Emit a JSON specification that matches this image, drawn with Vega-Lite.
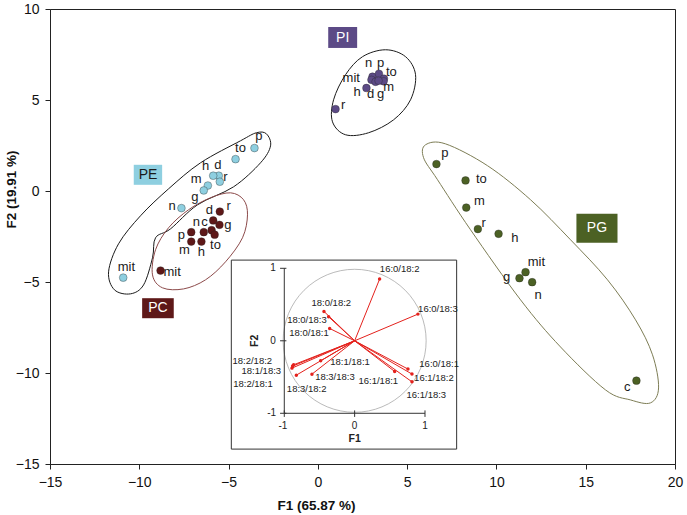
{
"$schema": "https://vega.github.io/schema/vega-lite/v6.json",
"width": 625, "height": 455,
"autosize": {"type": "none"},
"padding": {"left": 50, "top": 9, "right": 12, "bottom": 51},
"background": "white",
"config": {"font": "Liberation Sans", "view": {"stroke": "#222", "strokeWidth": 1}, "axis": {"grid": false, "domainColor": "#222", "tickColor": "#222", "labelColor": "#111", "titleColor": "#111"}},
"datasets": {
"pts": [
{"g":"PE","x":-3.55,"y":2.36},{"g":"PE","x":-4.61,"y":1.75},{"g":"PE","x":-5.55,"y":0.84},{"g":"PE","x":-5.86,"y":0.84},{"g":"PE","x":-5.49,"y":0.51},{"g":"PE","x":-6.16,"y":0.30},{"g":"PE","x":-6.39,"y":0.03},{"g":"PE","x":-7.64,"y":-0.94},{"g":"PE","x":-10.90,"y":-4.76},
{"g":"PC","x":-5.49,"y":-1.13},{"g":"PC","x":-5.86,"y":-1.62},{"g":"PC","x":-5.51,"y":-1.86},{"g":"PC","x":-6.39,"y":-2.26},{"g":"PC","x":-5.95,"y":-2.15},{"g":"PC","x":-7.09,"y":-2.26},{"g":"PC","x":-7.09,"y":-2.78},{"g":"PC","x":-6.52,"y":-2.78},{"g":"PC","x":-5.78,"y":-2.40},{"g":"PC","x":-8.81,"y":-4.37},
{"g":"PI","x":3.06,"y":6.28},{"g":"PI","x":3.42,"y":6.44},{"g":"PI","x":3.70,"y":6.17},{"g":"PI","x":3.68,"y":6.03},{"g":"PI","x":3.00,"y":6.11},{"g":"PI","x":3.23,"y":6.00},{"g":"PI","x":3.40,"y":6.06},{"g":"PI","x":2.72,"y":5.66},{"g":"PI","x":0.99,"y":4.50},
{"g":"PG","x":6.64,"y":1.48},{"g":"PG","x":8.27,"y":0.58},{"g":"PG","x":8.31,"y":-0.91},{"g":"PG","x":8.96,"y":-2.09},{"g":"PG","x":10.12,"y":-2.35},{"g":"PG","x":11.63,"y":-4.46},{"g":"PG","x":11.29,"y":-4.79},{"g":"PG","x":12.00,"y":-5.01},{"g":"PG","x":17.84,"y":-10.42}
],
"lbl": [
{"t":"p","x":-3.31,"y":3.00},{"t":"to","x":-4.33,"y":2.36},{"t":"h","x":-6.29,"y":1.35},{"t":"d","x":-5.60,"y":1.44},{"t":"r","x":-5.17,"y":0.76},{"t":"m","x":-6.81,"y":0.65},{"t":"g","x":-6.89,"y":-0.34},{"t":"n","x":-8.16,"y":-0.81},{"t":"mit","x":-10.72,"y":-4.15},
{"t":"d","x":-6.07,"y":-1.07},{"t":"r","x":-4.99,"y":-0.80},{"t":"n","x":-6.80,"y":-1.71},{"t":"c","x":-6.35,"y":-1.71},{"t":"g","x":-5.04,"y":-1.86},{"t":"p","x":-7.65,"y":-2.41},{"t":"m","x":-7.47,"y":-3.23},{"t":"h","x":-6.53,"y":-3.36},{"t":"to","x":-5.73,"y":-2.96},{"t":"mit","x":-8.16,"y":-4.43},
{"t":"n","x":2.84,"y":7.05},{"t":"p","x":3.51,"y":7.05},{"t":"to","x":4.12,"y":6.55},{"t":"mit","x":1.87,"y":6.21},{"t":"m","x":3.96,"y":5.74},{"t":"h","x":2.20,"y":5.42},{"t":"d","x":2.95,"y":5.33},{"t":"g","x":3.51,"y":5.33},{"t":"r","x":1.42,"y":4.74},
{"t":"p","x":7.11,"y":2.08},{"t":"to","x":9.16,"y":0.65},{"t":"m","x":9.05,"y":-0.54},{"t":"r","x":9.29,"y":-1.76},{"t":"h","x":11.03,"y":-2.59},{"t":"mit","x":12.24,"y":-3.88},{"t":"g","x":10.57,"y":-4.70},{"t":"n","x":12.34,"y":-5.74},{"t":"c","x":17.32,"y":-10.78}
],
"ell": [
{"g":"PI","i":0,"x":3.79,"y":7.76},{"g":"PI","i":1,"x":4.91,"y":7.38},{"g":"PI","i":2,"x":5.47,"y":6.39},{"g":"PI","i":3,"x":5.19,"y":5.01},{"g":"PI","i":4,"x":4.24,"y":3.91},{"g":"PI","i":5,"x":2.84,"y":3.20},{"g":"PI","i":6,"x":1.55,"y":3.09},{"g":"PI","i":7,"x":0.82,"y":3.80},{"g":"PI","i":8,"x":0.88,"y":5.01},{"g":"PI","i":9,"x":1.55,"y":6.39},{"g":"PI","i":10,"x":2.50,"y":7.38},
{"g":"PE","i":0,"x":-2.88,"y":3.14},{"g":"PE","i":1,"x":-2.65,"y":2.48},{"g":"PE","i":2,"x":-3.21,"y":1.55},{"g":"PE","i":3,"x":-4.72,"y":0.23},{"g":"PE","i":4,"x":-6.74,"y":-0.76},{"g":"PE","i":5,"x":-8.25,"y":-2.08},{"g":"PE","i":6,"x":-9.09,"y":-2.57},{"g":"PE","i":7,"x":-9.26,"y":-3.67},{"g":"PE","i":8,"x":-9.76,"y":-5.16},{"g":"PE","i":9,"x":-10.49,"y":-5.65},{"g":"PE","i":10,"x":-11.39,"y":-5.43},{"g":"PE","i":11,"x":-11.72,"y":-4.44},{"g":"PE","i":12,"x":-11.16,"y":-2.90},{"g":"PE","i":13,"x":-9.93,"y":-1.36},{"g":"PE","i":14,"x":-8.36,"y":0.12},{"g":"PE","i":15,"x":-6.57,"y":1.55},{"g":"PE","i":16,"x":-4.33,"y":2.76},{"g":"PE","i":17,"x":-3.44,"y":3.20},
{"g":"PC","i":0,"x":-4.89,"y":-0.10},{"g":"PC","i":1,"x":-4.16,"y":-0.48},{"g":"PC","i":2,"x":-3.94,"y":-1.31},{"g":"PC","i":3,"x":-4.22,"y":-2.57},{"g":"PC","i":4,"x":-5.17,"y":-3.89},{"g":"PC","i":5,"x":-6.29,"y":-4.88},{"g":"PC","i":6,"x":-7.52,"y":-5.38},{"g":"PC","i":7,"x":-8.70,"y":-5.32},{"g":"PC","i":8,"x":-9.26,"y":-4.61},{"g":"PC","i":9,"x":-9.09,"y":-3.23},{"g":"PC","i":10,"x":-8.36,"y":-2.02},{"g":"PC","i":11,"x":-7.24,"y":-1.03},{"g":"PC","i":12,"x":-6.01,"y":-0.37},
{"g":"PG","i":0,"x":6.03,"y":2.54},{"g":"PG","i":1,"x":7.15,"y":2.59},{"g":"PG","i":2,"x":9.50,"y":1.39},{"g":"PG","i":3,"x":11.91,"y":-0.48},{"g":"PG","i":4,"x":14.15,"y":-2.68},{"g":"PG","i":5,"x":16.22,"y":-4.88},{"g":"PG","i":6,"x":17.79,"y":-7.08},{"g":"PG","i":7,"x":18.74,"y":-9.00},{"g":"PG","i":8,"x":19.08,"y":-10.82},{"g":"PG","i":9,"x":18.63,"y":-11.64},{"g":"PG","i":10,"x":17.51,"y":-11.48},{"g":"PG","i":11,"x":16.11,"y":-10.93},{"g":"PG","i":12,"x":13.59,"y":-8.57},{"g":"PG","i":13,"x":11.35,"y":-5.98},{"g":"PG","i":14,"x":8.55,"y":-2.13},{"g":"PG","i":15,"x":6.70,"y":0.62},{"g":"PG","i":16,"x":5.92,"y":1.83}
],
"box": [
{"g":"PI","x":0.58,"x2":2.20,"y":9.01,"y2":7.86},
{"g":"PE","x":-10.31,"x2":-8.72,"y":1.44,"y2":0.34},
{"g":"PC","x":-9.84,"x2":-8.07,"y":-5.89,"y2":-6.99},
{"g":"PG","x":14.48,"x2":16.78,"y":-1.25,"y2":-2.85}
],
"boxlbl": [
{"g":"PI","t":"PI","x":1.39,"y":8.43},
{"g":"PE","t":"PE","x":-9.51,"y":0.89},
{"g":"PC","t":"PC","x":-8.96,"y":-6.44},
{"g":"PG","t":"PG","x":15.63,"y":-2.05}
],
"load": [
{"v":"16:0/18:2","f1":0.355,"f2":0.851},
{"v":"16:0/18:3","f1":0.900,"f2":0.368},
{"v":"18:0/18:2","f1":-0.436,"f2":0.405},
{"v":"18:0/18:3","f1":-0.370,"f2":0.331},
{"v":"18:0/18:1","f1":-0.355,"f2":0.170},
{"v":"18:2/18:2","f1":-0.867,"f2":-0.331},
{"v":"18:1/18:3","f1":-0.891,"f2":-0.377},
{"v":"18:2/18:1","f1":-0.882,"f2":-0.349},
{"v":"18:3/18:2","f1":-0.829,"f2":-0.474},
{"v":"18:3/18:3","f1":-0.607,"f2":-0.460},
{"v":"18:1/18:1","f1":-0.483,"f2":-0.276},
{"v":"16:1/18:1","f1":0.569,"f2":-0.423},
{"v":"16:0/18:1","f1":0.758,"f2":-0.390},
{"v":"16:1/18:2","f1":0.815,"f2":-0.459},
{"v":"16:1/18:3","f1":0.815,"f2":-0.566}
],
"loadlbl": [
{"t":"16:0/18:2","f1":0.640,"f2":0.989},
{"t":"16:0/18:3","f1":1.184,"f2":0.437},
{"t":"18:0/18:2","f1":-0.332,"f2":0.515},
{"t":"18:0/18:3","f1":-0.678,"f2":0.285},
{"t":"18:0/18:1","f1":-0.649,"f2":0.101},
{"t":"18:2/18:2","f1":-1.455,"f2":-0.276},
{"t":"18:1/18:3","f1":-1.327,"f2":-0.423},
{"t":"18:2/18:1","f1":-1.445,"f2":-0.598},
{"t":"18:3/18:2","f1":-0.682,"f2":-0.667},
{"t":"18:3/18:3","f1":-0.280,"f2":-0.497},
{"t":"18:1/18:1","f1":-0.066,"f2":-0.299},
{"t":"16:1/18:1","f1":0.336,"f2":-0.552},
{"t":"16:0/18:1","f1":1.201,"f2":-0.322},
{"t":"16:1/18:2","f1":1.127,"f2":-0.520},
{"t":"16:1/18:3","f1":1.019,"f2":-0.745}
],
"ilines": [
{"f1":-1,"f2":-1,"f1b":-1,"f2b":1},
{"f1":-1,"f2":-1,"f1b":1,"f2b":-1},
{"f1":-1.06,"f2":1,"f1b":-0.97,"f2b":1},
{"f1":-1.06,"f2":0,"f1b":-0.97,"f2b":0},
{"f1":-1.06,"f2":-1,"f1b":-0.97,"f2b":-1},
{"f1":-1,"f2":-1.05,"f1b":-1,"f2b":-0.96},
{"f1":0,"f2":-1.05,"f1b":0,"f2b":-0.96},
{"f1":1,"f2":-1.05,"f1b":1,"f2b":-0.96}
],
"iticks": [
{"t":"1","f1":-1.16,"f2":1},
{"t":"0","f1":-1.16,"f2":0},
{"t":"-1","f1":-1.18,"f2":-1},
{"t":"-1","f1":-1.02,"f2":-1.172},
{"t":"0","f1":0,"f2":-1.172},
{"t":"1","f1":1,"f2":-1.172}
]
},
"layer": [
{
"encoding": {
"x": {"field":"x","type":"quantitative","scale":{"domain":[-15,20],"nice":false,"zero":false},
"axis":{"title":"F1 (65.87 %)","values":[-15,-10,-5,0,5,10,15,20],"labelFontSize":14,"titleFontSize":13.5,"titleFontWeight":"bold","tickSize":5,"labelPadding":6,"titleX":266,"titleY":41,"titleBaseline":"middle","labelFlush":false,"labelOverlap":false}},
"y": {"field":"y","type":"quantitative","scale":{"domain":[-15,10],"nice":false,"zero":false},
"axis":{"title":"F2 (19.91 %)","values":[-15,-10,-5,0,5,10],"labelFontSize":14,"titleFontSize":13.5,"titleFontWeight":"bold","tickSize":5,"labelPadding":6,"titleX":-39,"titleY":180,"titleAngle":-90,"titleBaseline":"middle","titleAlign":"center","labelFlush":false,"labelOverlap":false}}
},
"layer": [
{"data":{"name":"ell"},"mark":{"type":"line","interpolate":"cardinal-closed","strokeWidth":1},
"encoding":{"stroke":{"field":"g","type":"nominal","scale":{"domain":["PE","PC","PI","PG"],"range":["#1a1a1a","#8c4a4a","#1a1a1a","#7d7d55"]},"legend":null},"detail":{"field":"g"},"order":{"field":"i","type":"quantitative"}}},
{"data":{"name":"pts"},"mark":{"type":"circle","size":60,"opacity":1,"stroke":"#222","strokeOpacity":0.5,"strokeWidth":0.7},
"encoding":{"fill":{"field":"g","type":"nominal","scale":{"domain":["PE","PC","PI","PG"],"range":["#8ecfe0","#5e1818","#5c4a86","#4c6124"]},"legend":null}}},
{"data":{"name":"lbl"},"mark":{"type":"text","fontSize":13,"align":"center","baseline":"middle","fill":"#1a1a1a"},
"encoding":{"text":{"field":"t"}}},
{"data":{"name":"box"},"mark":{"type":"rect","opacity":1},
"encoding":{"x2":{"field":"x2"},"y2":{"field":"y2"},"fill":{"field":"g","type":"nominal","scale":{"domain":["PE","PC","PI","PG"],"range":["#8ecfe0","#5e1818","#5c4a86","#4c6124"]},"legend":null}}},
{"data":{"name":"boxlbl"},"mark":{"type":"text","fontSize":14,"align":"center","baseline":"middle"},
"encoding":{"text":{"field":"t"},"color":{"condition":{"test":"datum.g === 'PE'","value":"#1a1a1a"},"value":"#ffffff"}}}
]
},
{
"encoding": {
"x": {"field":"f1","type":"quantitative","scale":{"domain":[-4.3305,4.554],"nice":false,"zero":false},"axis":null},
"y": {"field":"f2","type":"quantitative","scale":{"domain":[-1.6994,4.5766],"nice":false,"zero":false},"axis":null}
},
"layer": [
{"data":{"values":[{"f1":-1.753,"f2":1.113,"f1b":1.45,"f2b":-1.494}]},"mark":{"type":"rect","fill":"white","stroke":"#333","strokeWidth":1},
"encoding":{"x2":{"field":"f1b"},"y2":{"field":"f2b"}}},
{"data":{"values":[{"f1":0,"f2":0}]},"mark":{"type":"point","filled":false,"size":20450,"stroke":"#a8a8a8","strokeWidth":0.8,"opacity":1},"encoding":{}},
{"data":{"name":"ilines"},"mark":{"type":"rule","color":"#333","strokeWidth":1},
"encoding":{"x2":{"field":"f1b"},"y2":{"field":"f2b"}}},
{"data":{"name":"load"},"mark":{"type":"rule","color":"#e4211c","strokeWidth":1},
"encoding":{"x2":{"datum":0},"y2":{"datum":0}}},
{"data":{"name":"load"},"mark":{"type":"circle","size":12,"color":"#e4211c","opacity":1},"encoding":{}},
{"data":{"name":"loadlbl"},"mark":{"type":"text","fontSize":9.5,"align":"center","baseline":"middle","fill":"#222"},
"encoding":{"text":{"field":"t"}}},
{"data":{"name":"iticks"},"mark":{"type":"text","fontSize":10,"align":"center","baseline":"middle","fill":"#222"},
"encoding":{"text":{"field":"t"}}},
{"data":{"values":[{"t":"F1","f1":0,"f2":-1.356}]},"mark":{"type":"text","fontSize":10.5,"fontWeight":"bold","align":"center","baseline":"middle","fill":"#222"},
"encoding":{"text":{"field":"t"}}},
{"data":{"values":[{"t":"F2","f1":-1.421,"f2":0}]},"mark":{"type":"text","fontSize":10.5,"fontWeight":"bold","align":"center","baseline":"middle","angle":270,"fill":"#222"},
"encoding":{"text":{"field":"t"}}}
]
}
],
"resolve": {"scale": {"x": "independent", "y": "independent"}}
}
